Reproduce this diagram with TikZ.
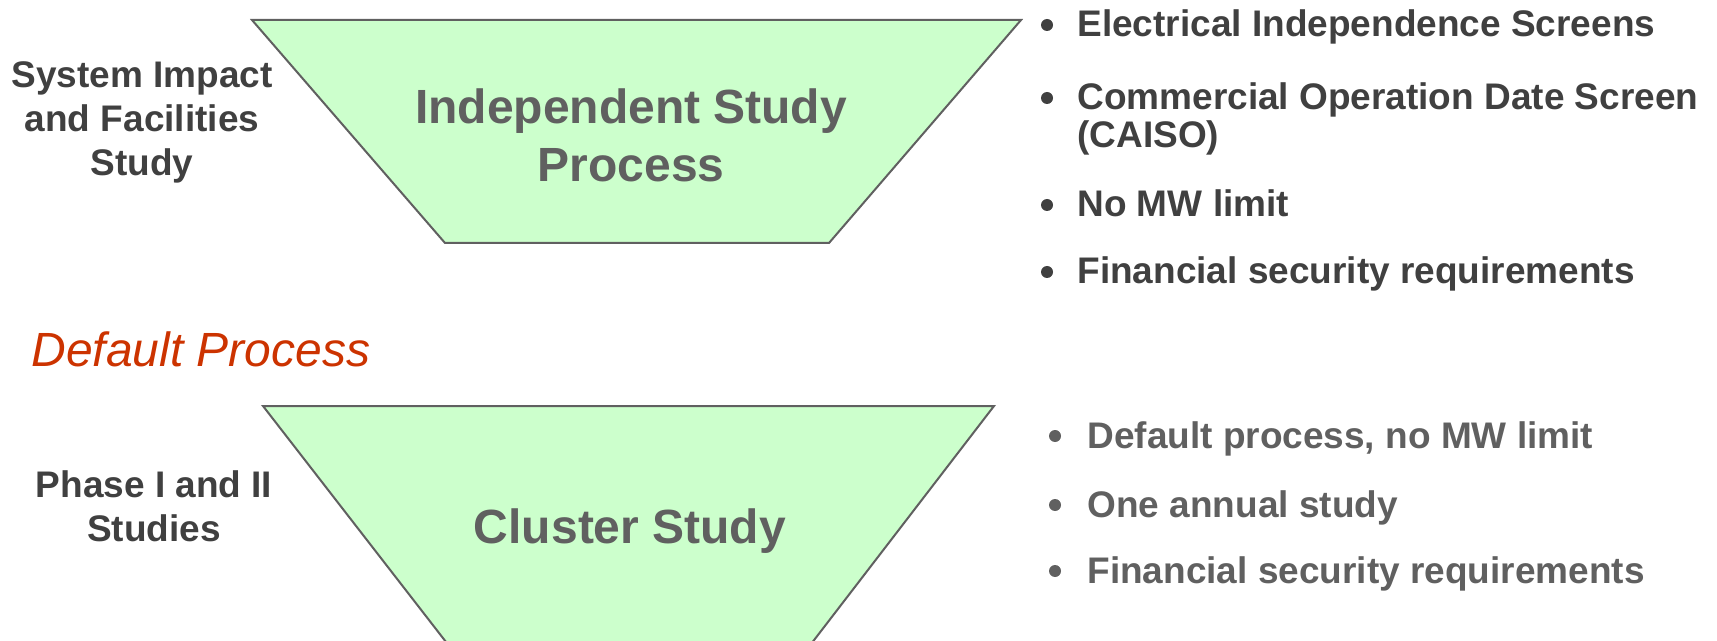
\documentclass[tikz,border=0pt]{standalone}
\usepackage{fontspec}
\setmainfont{Liberation Sans}
\definecolor{funnelgreen}{RGB}{204,255,204}
\definecolor{edgegray}{RGB}{96,96,96}
\definecolor{darktext}{RGB}{64,64,64}
\definecolor{softtext}{RGB}{96,96,96}
\definecolor{redtext}{RGB}{204,51,0}

\tikzset{
  funnel/.style={fill=funnelgreen, draw=edgegray, line width=1pt, line join=miter},
  sidelabel/.style={font=\fontsize{18.5}{22}\selectfont\bfseries, text=darktext, align=center},
  funneltitle/.style={font=\fontsize{24}{29}\selectfont\bfseries, text=softtext, align=center},
  itemtext/.style={font=\fontsize{18.5}{19}\selectfont\bfseries, anchor=base west, align=left, inner sep=0pt},
  itemdot/.style={circle, inner sep=0pt, minimum size=6pt}
}

\begin{document}
\begin{tikzpicture}[x=0.5pt, y=-0.5pt]
  \useasboundingbox (0,0) rectangle (1717,641);
  \clip (0,0) rectangle (1717,641);

  % Entonnoir du haut
  \draw[funnel] (252,20) -- (1021,20) -- (829,243) -- (445,243) -- cycle;
  \node[funneltitle] (indep) at (631,135) {Independent Study\\Process};
  \node[sidelabel] (sisfs) at (142,122) {System Impact\\and Facilities\\Study};

  % Titre du processus par défaut
  \node[font=\fontsize{24}{29}\selectfont\itshape, text=redtext, anchor=base west, inner sep=0pt] (default) at (31,366) {Default Process};

  % Entonnoir du bas (coupé par le bord)
  \draw[funnel] (263,406) -- (994,406) -- (768,700) -- (491,700) -- cycle;
  \node[funneltitle] (cluster) at (630,531) {Cluster Study};
  \node[sidelabel] (phases) at (154,506) {Phase I and II\\Studies};

  % Puces en haut à droite
  \node[itemdot, fill=darktext] (d1) at (1047,25) {};
  \node[itemtext, text=darktext] (i1) at (1077,37) {Electrical Independence Screens};
  \node[itemdot, fill=darktext] (d2) at (1047,98) {};
  \node[itemtext, text=darktext] (i2) at (1077,148) {Commercial Operation Date Screen\\(CAISO)};
  \node[itemdot, fill=darktext] (d3) at (1047,205) {};
  \node[itemtext, text=darktext] (i3) at (1077,217) {No MW limit};
  \node[itemdot, fill=darktext] (d4) at (1047,272) {};
  \node[itemtext, text=darktext] (i4) at (1077,284) {Financial security requirements};

  % Puces en bas à droite
  \node[itemdot, fill=softtext] (d5) at (1055,436) {};
  \node[itemtext, text=softtext] (i5) at (1087,448) {Default process, no MW limit};
  \node[itemdot, fill=softtext] (d6) at (1055,505) {};
  \node[itemtext, text=softtext] (i6) at (1087,517) {One annual study};
  \node[itemdot, fill=softtext] (d7) at (1055,571) {};
  \node[itemtext, text=softtext] (i7) at (1087,583) {Financial security requirements};

\end{tikzpicture}
\end{document}
